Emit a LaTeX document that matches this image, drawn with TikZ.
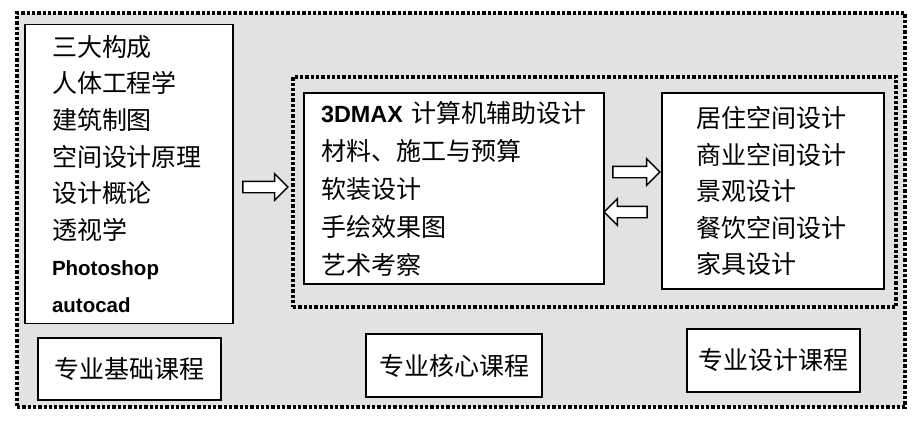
\documentclass[tikz,border=0pt]{standalone}
\usepackage{fontspec}
\setmainfont{Liberation Sans}
\newfontfamily\cjk{Noto Sans CJK SC}
\usetikzlibrary{shapes,arrows,positioning,calc}
\definecolor{panelgray}{RGB}{226,226,226}

\begin{document}
\begin{tikzpicture}[
    x=1pt, y=-1pt,
    dotframe/.style={draw, line width=3.3pt, dash pattern=on 3.3pt off 2pt, fill=panelgray},
    listbox/.style={draw, fill=white, line width=1.6pt, align=left},
    labelbox/.style={draw, fill=white, line width=1.6pt, inner sep=0pt, font=\cjk\fontsize{25}{30}\selectfont},
    blockarrow/.style={single arrow, draw, fill=white, line width=1.4pt, inner sep=5pt, minimum width=25pt, single arrow head extend=7.5pt},
]

\path[use as bounding box, fill=white] (0,0) rectangle (916,426);

% Frames
\node[dotframe, minimum width=888pt, minimum height=394pt] (outer) at (461,210) {};
\node[dotframe, minimum width=603pt, minimum height=230pt] (inner) at (594.5,192) {};

% Basic courses
\node[listbox, minimum width=208pt, minimum height=299pt, text width=154pt, inner xsep=27pt,
      font=\cjk\fontsize{25}{36.6}\selectfont] (basic) at (129,174) {三大构成\\人体工程学\\建筑制图\\空间设计原理\\设计概论\\透视学\\{\normalfont\bfseries\fontsize{20.5}{36.6}\selectfont Photoshop}\\{\normalfont\bfseries\fontsize{20.5}{36.6}\selectfont autocad}};

% Core courses
\node[listbox, minimum width=300pt, minimum height=191pt, text width=266pt, inner xsep=17pt,
      font=\cjk\fontsize{25}{38}\selectfont] (core) at (454,188.5) {{\normalfont\bfseries\fontsize{23.4}{38}\selectfont 3DMAX}\kern9pt 计算机辅助设计\\材料、施工与预算\\软装设计\\手绘效果图\\艺术考察};

% Design courses
\node[listbox, minimum width=222pt, minimum height=196pt, text width=154pt, inner xsep=34pt,
      font=\cjk\fontsize{25}{36.5}\selectfont] (design) at (773,191) {居住空间设计\\商业空间设计\\景观设计\\餐饮空间设计\\家具设计};

% Labels
\node[labelbox, minimum width=183pt, minimum height=62pt] (basiclabel) at (129.5,369) {专业基础课程};
\node[labelbox, minimum width=176pt, minimum height=63pt] (corelabel) at (454,365.5) {专业核心课程};
\node[labelbox, minimum width=173pt, minimum height=63pt] (designlabel) at (773.5,360.5) {专业设计课程};

% Arrows
\node[blockarrow, minimum height=45pt] (basictocore) at (262.5,187) {};
\node[blockarrow, minimum height=47pt] (coretodesign) at (633.5,172) {};
\node[blockarrow, minimum height=43pt, shape border rotate=180] (designtocore) at (628.5,212) {};

\end{tikzpicture}
\end{document}
